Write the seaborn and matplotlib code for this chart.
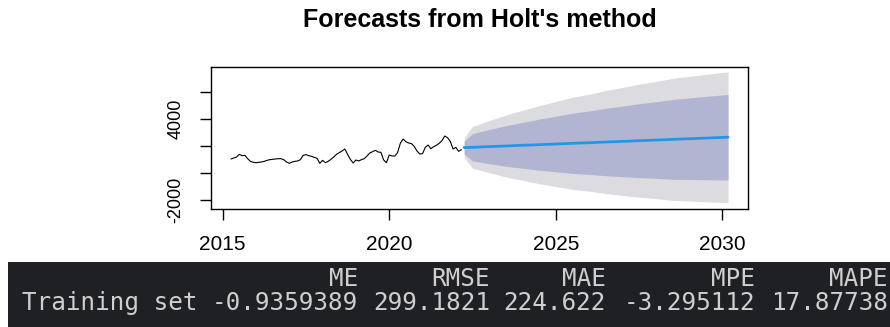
import numpy as np
import pandas as pd
import matplotlib
matplotlib.use("Agg")
import matplotlib.pyplot as plt
from matplotlib.patches import Rectangle
import seaborn as sns

# Observed monthly series, April 2015 - March 2022
start_year = 2015.25
observed = [
    1037, 1111, 1185, 1383, 1284, 1309, 1062, 864, 790, 765, 790, 815,
    864, 938, 988, 1012, 1037, 1062, 1062, 988, 815, 716, 815, 864,
    889, 988, 1309, 1358, 1284, 1235, 1160, 1086, 716, 938, 765, 864,
    1012, 1185, 1383, 1506, 1630, 1778, 1383, 1012, 740, 963, 889, 988,
    1062, 1259, 1481, 1580, 1679, 1556, 1531, 963, 765, 1333, 1259, 1259,
    1506, 2198, 2519, 2321, 2222, 2173, 1975, 1630, 1407, 1432, 1901, 2074,
    1802, 1951, 2049, 2198, 2395, 2741, 2617, 2346, 1778, 1901, 1605, 1729,
]

# Holt forecast: point forecasts and interval half-widths
fc_time = [2022.25, 2022.5, 2023.0, 2023.5, 2024.0, 2024.5, 2025.0, 2025.5,
           2026.0, 2026.5, 2027.0, 2027.5, 2028.0, 2028.5, 2029.0, 2029.5, 2030.17]
fc_mean = [1881, 1904, 1955, 2000, 2052, 2096, 2148, 2200,
           2244, 2296, 2341, 2392, 2437, 2489, 2541, 2585, 2652]
half80 = [484, 1010, 1260, 1502, 1695, 1889, 2059, 2228,
          2349, 2495, 2616, 2737, 2834, 2955, 3018, 3086, 3164]
half95 = [740, 1550, 1926, 2296, 2592, 2889, 3148, 3407,
          3592, 3815, 4000, 4185, 4333, 4518, 4615, 4718, 4837]

x_ticks = [2015, 2020, 2025, 2030]
y_ticks = [-2000, 0, 2000, 4000, 6000]
y_labelled = [-2000, 4000]

# Accuracy table printed under the plot
acc_row_name = "Training set"
acc_cols = ["ME", "RMSE", "MAE", "MPE", "MAPE"]
acc_vals = ["-0.9359389", "299.1821", "224.622", "-3.295112", "17.87738"]

obs_df = pd.DataFrame({
    "time": start_year + np.arange(len(observed)) / 12.0,
    "value": observed,
})
fc_df = pd.DataFrame({"time": fc_time, "mean": fc_mean,
                      "h80": half80, "h95": half95})
fc_df["lo80"] = fc_df["mean"] - fc_df["h80"]
fc_df["hi80"] = fc_df["mean"] + fc_df["h80"]
fc_df["lo95"] = fc_df["mean"] - fc_df["h95"]
fc_df["hi95"] = fc_df["mean"] + fc_df["h95"]

sns.set_theme(style="ticks")
plt.rcParams["font.family"] = ["Liberation Sans", "DejaVu Sans"]

W, H = 890, 327
fig = plt.figure(figsize=(W / 100, H / 100), dpi=100)
fig.patch.set_facecolor("white")

left, right, top, bottom = 211, 748, 67, 209
ax = fig.add_axes([left / W, 1 - bottom / H, (right - left) / W, (bottom - top) / H])

ax.fill_between(fc_df["time"], fc_df["lo95"], fc_df["hi95"],
                color="#DBDBE0", linewidth=0)
ax.fill_between(fc_df["time"], fc_df["lo80"], fc_df["hi80"],
                color="#B1B5D1", linewidth=0)
sns.lineplot(data=obs_df, x="time", y="value", ax=ax,
             color="black", linewidth=0.8)
sns.lineplot(data=fc_df, x="time", y="mean", ax=ax,
             color="#2297E6", linewidth=2.0)

ax.set_xlim(2014.65, 2030.77)
ax.set_ylim(-2667, 7852)
ax.set_xlabel("")
ax.set_ylabel("")

ax.set_xticks(x_ticks)
ax.set_xticklabels([str(t) for t in x_ticks], fontsize=15)
ax.set_yticks(y_ticks)
ax.set_yticklabels([str(t) if t in y_labelled else "" for t in y_ticks],
                   fontsize=13, rotation=90, va="center")
ax.tick_params(axis="both", direction="out", length=8, width=1.0,
               color="black", labelcolor="black")
ax.tick_params(axis="x", pad=11)
ax.tick_params(axis="y", pad=11)
for sp in ax.spines.values():
    sp.set_color("black")
    sp.set_linewidth(1.0)

fig.text((left + right) / 2 / W, 1 - 20 / H, "Forecasts from Holt's method",
         ha="center", va="center", fontsize=18, fontweight="bold",
         color="black")

# Console output strip
fig.patches.append(Rectangle((8 / W, 0), 1, (H - 262) / H,
                             transform=fig.transFigure,
                             facecolor="#1F2023", edgecolor="none", zorder=0))
mono = dict(family="DejaVu Sans Mono", fontsize=17.5, color="#CFCFCF")
col_right = [358, 490, 606, 755, 888]
row1_y = 1 - 279 / H
row2_y = 1 - 303 / H
fig.text(22 / W, row2_y, acc_row_name, ha="left", va="center", **mono)
for name, val, xr in zip(acc_cols, acc_vals, col_right):
    fig.text(xr / W, row1_y, name, ha="right", va="center", **mono)
    fig.text(xr / W, row2_y, val, ha="right", va="center", **mono)

fig.savefig("out.png", dpi=100)
